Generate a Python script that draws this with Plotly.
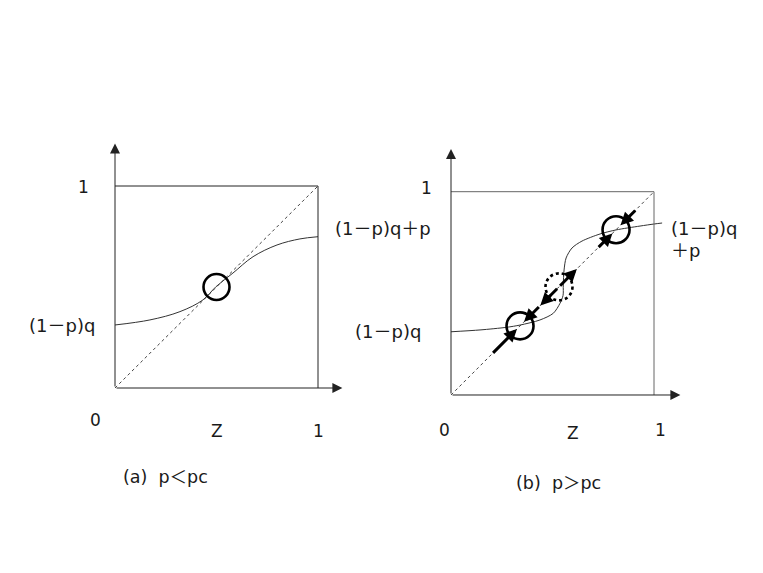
import plotly.graph_objects as go

# page is 763x573; the html body has an 8px margin
PAGE_W, PAGE_H = 763, 573
OFF = 8
W, H = PAGE_W - 2 * OFF, PAGE_H - 2 * OFF

# ---- data ----
curve_a_z = [0, 0.172, 0.320, 0.433, 0.498, 0.581, 0.680, 0.798, 0.911, 1.0]
curve_a_f = [0.312, 0.337, 0.378, 0.436, 0.502, 0.569, 0.650, 0.708, 0.738, 0.749]
fixed_a = [0.50]

curve_b_z = [0, 0.143, 0.274, 0.340, 0.438, 0.504, 0.537, 0.552, 0.553, 0.557, 0.567, 0.596, 0.645, 0.734, 0.813, 0.931, 1.0, 1.04]
curve_b_f = [0.311, 0.320, 0.333, 0.344, 0.369, 0.402, 0.451, 0.490, 0.541, 0.615, 0.674, 0.723, 0.757, 0.792, 0.812, 0.831, 0.841, 0.846]
stable_b = [0.340, 0.813]
unstable_b = [0.532]

diag = [0, 1]

# arrows along the diagonal in panel (b): (tail, head)
arrows_b = [(0.20, 0.325), (0.44, 0.36), (0.53, 0.44), (0.53, 0.62), (0.72, 0.795), (0.915, 0.835)]

# ---- geometry (page pixels) ----
A = dict(x0=115, x1=318, y0=388, y1=186)
B = dict(x0=451, x1=654, y0=395, y1=191.7)
XR = [-0.2, 1.2]
YR = [-0.1, 1.25]


def px(x):
    return (x - OFF) / W


def py(y):
    return 1 - (y - OFF) / H


def dom(P):
    sx = P['x1'] - P['x0']
    sy = P['y0'] - P['y1']
    xl = P['x0'] + XR[0] * sx
    xr = P['x0'] + XR[1] * sx
    yb = P['y0'] - YR[0] * sy
    yt = P['y0'] - YR[1] * sy
    return [px(xl), px(xr)], [py(yb), py(yt)]


dxa, dya = dom(A)
dxb, dyb = dom(B)

FONT = "DejaVu Sans, Noto Sans CJK JP, sans-serif"
TXT = "#1a1a1a"
CURVE = "#333333"

fig = go.Figure()

for xa, ya in [("x", "y"), ("x2", "y2")]:
    fig.add_trace(go.Scatter(x=diag, y=diag, mode="lines", line=dict(color="#444", width=1, dash="dot"),
                             xaxis=xa, yaxis=ya, showlegend=False, hoverinfo="skip"))
fig.add_trace(go.Scatter(x=curve_a_z, y=curve_a_f, mode="lines", line=dict(color=CURVE, width=1, shape="spline", smoothing=1),
                         xaxis="x", yaxis="y", showlegend=False, hoverinfo="skip"))
fig.add_trace(go.Scatter(x=curve_b_z, y=curve_b_f, mode="lines", line=dict(color=CURVE, width=1, shape="spline", smoothing=0.8),
                         xaxis="x2", yaxis="y2", showlegend=False, hoverinfo="skip"))

shapes = []
annotations = []

for (xr, yr, boxcol, xend) in [("x", "y", "#222", 1.12), ("x2", "y2", "#666", 1.13)]:
    shapes.append(dict(type="line", xref=xr, yref=yr, x0=0, y0=1, x1=1, y1=1, line=dict(color=boxcol, width=1)))
    shapes.append(dict(type="line", xref=xr, yref=yr, x0=1, y0=0, x1=1, y1=1, line=dict(color=boxcol, width=1)))
    annotations.append(dict(xref=xr, yref=yr, axref=xr, ayref=yr, x=0, y=1.21, ax=0, ay=0, text="",
                            showarrow=True, arrowhead=2, arrowsize=2.0, arrowwidth=1, arrowcolor="#222", standoff=0))
    annotations.append(dict(xref=xr, yref=yr, axref=xr, ayref=yr, x=xend, y=0, ax=0, ay=0, text="",
                            showarrow=True, arrowhead=2, arrowsize=2.0, arrowwidth=1, arrowcolor="#222", standoff=0))

ra = 13 / 203
for c in fixed_a:
    shapes.append(dict(type="circle", xref="x", yref="y", x0=c - ra, x1=c + ra, y0=c - 13 / 202, y1=c + 13 / 202,
                       line=dict(color="black", width=2.6)))
rb = 13.5 / 203
for c in stable_b:
    shapes.append(dict(type="circle", xref="x2", yref="y2", x0=c - rb, x1=c + rb, y0=c - rb, y1=c + rb,
                       line=dict(color="black", width=2.6)))
for c in unstable_b:
    shapes.append(dict(type="circle", xref="x2", yref="y2", x0=c - rb, x1=c + rb, y0=c - rb, y1=c + rb,
                       line=dict(color="black", width=2.6, dash="dot")))

for t, h in arrows_b:
    annotations.append(dict(xref="x2", yref="y2", axref="x2", ayref="y2", x=h, y=h, ax=t, ay=t, text="",
                            showarrow=True, arrowhead=2, arrowsize=0.85, arrowwidth=3, arrowcolor="black", standoff=0))


def lab(x, y, text, anchor="center", size=17):
    annotations.append(dict(xref="paper", yref="paper", x=px(x), y=py(y), text=text, showarrow=False,
                            xanchor=anchor, yanchor="middle", font=dict(family=FONT, size=size, color=TXT)))


# panel (a) labels (page pixel positions)
lab(83, 187, "1")
lab(62, 325, "(1－p)q", size=18)
lab(95, 420, "0")
lab(217, 431, "Z", size=17)
lab(318, 431, "1")
lab(165, 477, "(a)  p＜pc", size=17.5)

# panel (b) labels
lab(426, 188, "1")
lab(383, 228, "(1－p)q＋p", size=18)
lab(388, 331, "(1－p)q", size=18)
lab(445, 430, "0")
lab(573, 433, "Z", size=17)
lab(660, 430, "1")
lab(669, 228, "(1－p)q", anchor="left", size=18)
lab(669, 250, "＋p", anchor="left", size=18)
lab(558, 483, "(b)  p＞pc", size=17.5)

ax_common = dict(showgrid=False, zeroline=False, showticklabels=False, ticks="", showline=False, fixedrange=True)

fig.update_layout(
    width=W, height=H,
    margin=dict(l=0, r=0, t=0, b=0),
    paper_bgcolor="white", plot_bgcolor="white",
    xaxis=dict(domain=dxa, range=XR, **ax_common),
    yaxis=dict(domain=dya, range=YR, **ax_common),
    xaxis2=dict(domain=dxb, range=XR, anchor="y2", **ax_common),
    yaxis2=dict(domain=dyb, range=YR, anchor="x2", **ax_common),
    shapes=shapes,
    annotations=annotations,
    showlegend=False,
)

fig.write_html("out.html")
